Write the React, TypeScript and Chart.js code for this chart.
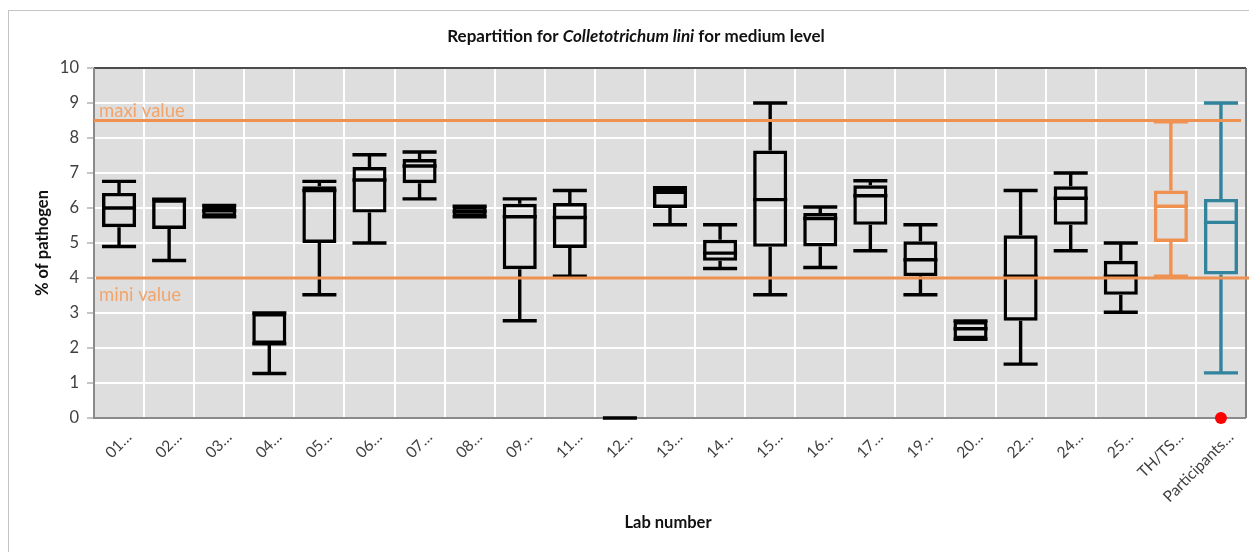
import React, { useEffect, useRef } from "react";
import { Chart, registerables } from "chart.js";

Chart.register(...registerables);

// ---------- data ----------
const labLabels = [
  "01…", "02…", "03…", "04…", "05…", "06…", "07…", "08…", "09…", "11…", "12…",
  "13…", "14…", "15…", "16…", "17…", "19…", "20…", "22…", "24…", "25…",
  "TH/TS…", "Participants…",
];
const minValues = [
  4.9, 4.5, 5.75, 1.27, 3.52, 5.0, 6.26, 5.75, 2.78, 4.05, 0,
  5.52, 4.27, 3.52, 4.3, 4.78, 3.52, 2.25, 1.54, 4.78, 3.02,
  4.05, 1.29,
];
const q1Values = [
  5.45, 5.4, 5.75, 2.12, 5.0, 5.87, 6.71, 5.75, 4.25, 4.86, 0,
  6.0, 4.49, 4.89, 4.9, 5.52, 4.05, 2.25, 2.78, 5.52, 3.52,
  5.03, 4.1,
];
const medianValues = [
  6.0, 6.25, 5.92, 2.12, 6.5, 6.8, 7.2, 5.9, 5.75, 5.73, 0,
  6.45, 4.71, 6.24, 5.7, 6.35, 4.52, 2.55, 4.05, 6.28, 4.05,
  6.05, 5.59,
];
const q3Values = [
  6.43, 6.25, 6.07, 3.0, 6.62, 7.17, 7.4, 6.05, 6.12, 6.14, 0,
  6.55, 5.09, 7.64, 5.86, 6.65, 5.05, 2.77, 5.22, 6.62, 4.49,
  6.5, 6.26,
];
const maxValues = [
  6.76, 6.25, 6.07, 3.0, 6.76, 7.52, 7.6, 6.05, 6.26, 6.5, 0,
  6.58, 5.52, 9.0, 6.03, 6.78, 5.52, 2.77, 6.5, 7.0, 5.0,
  8.46, 9.0,
];
const outlierValues: (number | null)[] = [
  null, null, null, null, null, null, null, null, null, null, null,
  null, null, null, null, null, null, null, null, null, null,
  null, 0,
];
const maxiValue = 8.5;
const miniValue = 4.0;
const yTickValues = [0, 1, 2, 3, 4, 5, 6, 7, 8, 9, 10];

// ---------- styles ----------
const FONT = "Lato, 'Open Sans', 'Liberation Sans', sans-serif";
const ORANGE = "#EF9150";
const ORANGE_TEXT = "#F2A56B";
const TEAL = "#31849C";
const STROKE = 3.4;
const n = labLabels.length;
const boxColors = labLabels.map((_, i) => (i === n - 2 ? ORANGE : i === n - 1 ? TEAL : "#000000"));

export default function App() {
  const ref = useRef<HTMLCanvasElement>(null);

  useEffect(() => {
    document.documentElement.style.overflow = "hidden";
    document.body.style.overflow = "hidden";
    const canvas = ref.current!;

    const boxPlugin = {
      id: "boxplotExtras",
      beforeDraw(chart: any) {
        const { ctx, chartArea: a } = chart;
        ctx.save();
        ctx.fillStyle = "#dedede";
        ctx.fillRect(a.left, a.top, a.right - a.left, a.bottom - a.top);
        ctx.restore();
      },
      beforeDatasetsDraw(chart: any) {
        const { ctx, chartArea: a } = chart;
        ctx.save();
        ctx.lineWidth = 1.5;
        ctx.strokeStyle = "#111111";
        ctx.beginPath();
        ctx.moveTo(a.left, a.top);
        ctx.lineTo(a.right, a.top);
        ctx.stroke();
        ctx.strokeStyle = "#555555";
        ctx.beginPath();
        ctx.moveTo(a.right, a.top);
        ctx.lineTo(a.right, a.bottom);
        ctx.stroke();
        ctx.strokeStyle = "#8a8a8a";
        ctx.lineWidth = 2;
        ctx.beginPath();
        ctx.moveTo(a.left, a.top);
        ctx.lineTo(a.left, a.bottom);
        ctx.lineTo(a.right, a.bottom);
        ctx.stroke();
        ctx.restore();
      },
      afterDatasetsDraw(chart: any) {
        const { ctx, chartArea: a } = chart;
        const y = chart.scales.y;
        const meta = chart.getDatasetMeta(0);
        ctx.save();
        ctx.lineWidth = STROKE;
        ctx.lineCap = "butt";
        meta.data.forEach((el: any, i: number) => {
          const cx = el.x;
          const hw = el.width / 2;
          const yMin = y.getPixelForValue(minValues[i]);
          const yQ1 = y.getPixelForValue(q1Values[i]);
          const yMed = y.getPixelForValue(medianValues[i]);
          const yQ3 = y.getPixelForValue(q3Values[i]);
          const yMax = y.getPixelForValue(maxValues[i]);
          ctx.strokeStyle = boxColors[i];
          ctx.beginPath();
          ctx.moveTo(cx, yQ3);
          ctx.lineTo(cx, yMax);
          ctx.moveTo(cx, yQ1);
          ctx.lineTo(cx, yMin);
          ctx.moveTo(cx - hw, yMax);
          ctx.lineTo(cx + hw, yMax);
          ctx.moveTo(cx - hw, yMin);
          ctx.lineTo(cx + hw, yMin);
          ctx.moveTo(cx - hw, yMed);
          ctx.lineTo(cx + hw, yMed);
          ctx.stroke();
        });
        const yMaxi = y.getPixelForValue(maxiValue);
        const yMini = y.getPixelForValue(miniValue);
        ctx.strokeStyle = ORANGE;
        ctx.lineWidth = 3;
        ctx.beginPath();
        ctx.moveTo(a.left, yMaxi);
        ctx.lineTo(a.right - 5, yMaxi);
        ctx.moveTo(a.left + 2, yMini);
        ctx.lineTo(a.right + 5, yMini);
        ctx.stroke();
        ctx.fillStyle = ORANGE_TEXT;
        ctx.font = `18.5px ${FONT}`;
        ctx.textAlign = "left";
        ctx.textBaseline = "alphabetic";
        ctx.fillText("maxi value", a.left + 5, yMaxi - 4);
        ctx.fillText("mini value", a.left + 5, yMini + 23);
        ctx.restore();
      },
      afterDraw(chart: any) {
        const { ctx, chartArea: a } = chart;
        ctx.save();
        ctx.fillStyle = "#111111";
        const parts: [string, string][] = [
          ["Repartition for ", "normal"],
          ["Colletotrichum lini", "italic"],
          [" for medium level", "normal"],
        ];
        const size = 17;
        let total = 0;
        const widths = parts.map(([t, st]) => {
          ctx.font = `${st} bold ${size}px ${FONT}`;
          const w = ctx.measureText(t).width;
          total += w;
          return w;
        });
        let x = 627 - total / 2;
        ctx.textBaseline = "alphabetic";
        ctx.textAlign = "left";
        parts.forEach(([t, st], k) => {
          ctx.font = `${st} bold ${size}px ${FONT}`;
          ctx.fillText(t, x, 31);
          x += widths[k];
        });
        ctx.font = `bold 16.5px ${FONT}`;
        ctx.textAlign = "center";
        ctx.textBaseline = "middle";
        ctx.fillText("Lab number", (a.left + a.right) / 2 - 2, 512);
        ctx.translate(34, (a.top + a.bottom) / 2);
        ctx.rotate(-Math.PI / 2);
        ctx.fillText("% of pathogen", 0, 0);
        ctx.restore();
      },
    };

    const chart = new Chart(canvas, {
      type: "bar",
      data: {
        labels: labLabels,
        datasets: [
          {
            type: "bar",
            data: labLabels.map((_, i) => [q1Values[i], q3Values[i]]) as any,
            backgroundColor: "rgba(0,0,0,0)",
            borderColor: boxColors,
            borderWidth: STROKE,
            borderSkipped: false,
            categoryPercentage: 1,
            barPercentage: 0.68,
          } as any,
          {
            type: "line",
            data: outlierValues as any,
            showLine: false,
            pointRadius: 6,
            pointBackgroundColor: "#ff0000",
            pointBorderColor: "#ff0000",
            pointBorderWidth: 0,
            clip: false,
          } as any,
        ],
      },
      options: {
        responsive: false,
        animation: false,
        events: [],
        layout: { padding: { top: 57, left: 0, right: 11, bottom: 0 } },
        plugins: {
          legend: { display: false },
          tooltip: { enabled: false },
          title: { display: false },
        },
        scales: {
          x: {
            offset: true,
            grid: { color: "#ffffff", lineWidth: 2, drawTicks: false, offset: true },
            border: { display: false },
            ticks: {
              color: "#404040",
              font: { family: FONT, size: 15.5 },
              minRotation: 45,
              maxRotation: 45,
              autoSkip: false,
              labelOffset: 10,
              padding: 10,
            },
            afterFit: (s: any) => {
              s.height = 134;
            },
          },
          y: {
            min: 0,
            max: 10,
            afterBuildTicks: (s: any) => {
              s.ticks = yTickValues.map((v) => ({ value: v }));
            },
            ticks: {
              color: "#404040",
              font: { family: FONT, size: 16.5 },
              padding: 8,
            },
            grid: {
              color: "#ffffff",
              lineWidth: 2,
              tickColor: "#8a8a8a",
              tickLength: 7,
              tickWidth: 1,
            },
            border: { display: false },
            afterFit: (s: any) => {
              s.width = 85;
            },
          },
        },
      } as any,
      plugins: [boxPlugin],
    });
    return () => chart.destroy();
  }, []);

  return (
    <div
      style={{
        marginTop: 2,
        width: 1249,
        height: 542,
        borderLeft: "1px solid #c4c4c4",
        borderTop: "1px solid #c4c4c4",
        boxSizing: "border-box",
        background: "#ffffff",
      }}
    >
      <canvas ref={ref} width={1248} height={541} style={{ display: "block" }} />
    </div>
  );
}
